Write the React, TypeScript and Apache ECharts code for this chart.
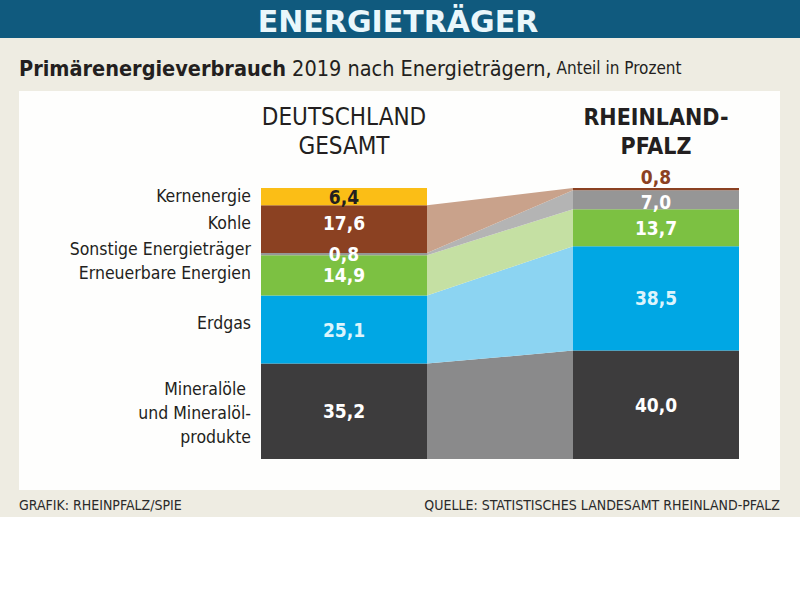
import React, { useEffect, useRef } from "react";
import * as echarts from "echarts";

// ---- data ----
const CATEGORIES = [
  "Mineralöle",
  "Erdgas",
  "Erneuerbare Energien",
  "Sonstige Energieträger",
  "Kohle",
  "Kernenergie",
];
const CATEGORY_LABELS = [
  "Mineralöle \nund Mineralöl-\nprodukte",
  "Erdgas",
  "Erneuerbare Energien",
  "Sonstige Energieträger",
  "Kohle",
  "Kernenergie",
];
const REGIONS = ["DEUTSCHLAND\nGESAMT", "RHEINLAND-\nPFALZ"];
const DEUTSCHLAND = [35.2, 25.1, 14.9, 0.8, 17.6, 6.4];
const RHEINLAND_PFALZ = [40.0, 38.5, 13.7, 7.0, 0.8, 0];

// ---- style ----
const NARROW =
  "'Liberation Sans Narrow', 'DejaVu Sans Condensed', 'Roboto Condensed', 'Open Sans', sans-serif";
const BAR_W = 166;
const BAR_COLORS = ["#3d3c3d", "#00a7e4", "#7cc142", "#969696", "#8b4122", "#fbbe16"];
const RIBBON_COLORS = ["#8a8a8b", "#8cd4f2", "#c5e0a3", "#b4b4b4", "#c9a28b", "#fde08a"];
const LABEL_NUDGE = [2, -7, -2, -5, -6, -1];
const TEXT = "#231f20";

const fmt = (v: number) => v.toFixed(1).replace(".", ",");

function cumulative(vals: number[]) {
  const out: number[][] = [];
  let acc = 0;
  vals.forEach((v) => {
    out.push([acc, acc + v]);
    acc += v;
  });
  return out;
}

export default function App() {
  const ref = useRef<HTMLDivElement>(null);

  useEffect(() => {
    document.body.style.margin = "0";
    if (!ref.current) return;
    const chart = echarts.init(ref.current, undefined, { renderer: "svg" });

    const cumL = cumulative(DEUTSCHLAND);
    const cumR = cumulative(RHEINLAND_PFALZ);

    const barSeries = CATEGORIES.map((name, i) => ({
      name,
      type: "bar",
      stack: "total",
      barWidth: BAR_W,
      z: 3,
      itemStyle: { color: BAR_COLORS[i] },
      label: {
        show: true,
        position: "inside",
        color: "#ffffff",
        fontFamily: NARROW,
        fontWeight: "bold",
        fontSize: 19,
        formatter: (p: any) => fmt(p.value),
      },
      data: [DEUTSCHLAND[i], RHEINLAND_PFALZ[i]].map((v, j) => {
        const item: any = { value: v };
        if (v === 0) item.label = { show: false };
        if (i === 5 && j === 0) item.label = { color: TEXT };
        if (i === 1) item.label = { color: "#dcf4fc" };
        if (i === 4 && j === 0) item.label = { offset: [0, -6] };
        if (i === 4 && j === 1)
          item.label = { position: "top", distance: 2, color: "#8b4122" };
        if (i === 3 && j === 1) item.label = { offset: [0, 2] };
        return item;
      }),
    }));

    const ribbonData = CATEGORIES.map((_, i) => [
      0,
      cumL[i][0],
      cumL[i][1],
      cumR[i][0],
      cumR[i][1],
      i,
    ]).filter((d) => DEUTSCHLAND[d[5]] > 0 && RHEINLAND_PFALZ[d[5]] > 0);

    const ribbonSeries = {
      type: "custom",
      name: "ribbons",
      z: 1,
      silent: true,
      encode: { x: 0, y: [1, 2, 3, 4] },
      data: ribbonData,
      renderItem: (params: any, api: any) => {
        const l0 = api.coord([0, api.value(1)]);
        const l1 = api.coord([0, api.value(2)]);
        const r0 = api.coord([1, api.value(3)]);
        const r1 = api.coord([1, api.value(4)]);
        const xL = l0[0] + BAR_W / 2;
        const xR = r0[0] - BAR_W / 2;
        const idx = api.value(5);
        return {
          type: "polygon",
          shape: {
            points: [
              [xL, l0[1]],
              [xR, r0[1]],
              [xR, r1[1]],
              [xL, l1[1]],
            ],
          },
          style: { fill: RIBBON_COLORS[idx] },
        };
      },
    };

    const labelSeries = {
      type: "custom",
      name: "categoryLabels",
      z: 4,
      silent: true,
      encode: { x: 0, y: 1 },
      data: CATEGORIES.map((_, i) => [0, (cumL[i][0] + cumL[i][1]) / 2, i]),
      renderItem: (params: any, api: any) => {
        const pt = api.coord([0, api.value(1)]);
        const idx = api.value(2);
        return {
          type: "text",
          x: pt[0] - BAR_W / 2 - 10,
          y: pt[1] + LABEL_NUDGE[idx],
          style: {
            text: CATEGORY_LABELS[idx],
            align: "right",
            verticalAlign: "middle",
            fontFamily: NARROW,
            fontSize: 17.5,
            lineHeight: 24,
            fill: TEXT,
          },
        };
      },
    };

    chart.setOption({
      animation: false,
      grid: { left: 344, right: 144, top: 188, bottom: 149, containLabel: false },
      xAxis: {
        type: "category",
        data: REGIONS,
        position: "top",
        boundaryGap: false,
        axisLine: { show: false },
        axisTick: { show: false },
        splitLine: { show: false },
        axisLabel: {
          margin: 28,
          interval: 0,
          formatter: (v: string, i: number) =>
            v
              .split("\n")
              .map((s) => `{${i === 0 ? "a" : "b"}|${s}}`)
              .join("\n"),
          rich: {
            a: {
              fontFamily: NARROW,
              fontSize: 24,
              lineHeight: 29,
              color: TEXT,
              align: "center",
            },
            b: {
              fontFamily: NARROW,
              fontSize: 23,
              fontWeight: "bold",
              lineHeight: 29,
              color: TEXT,
              align: "center",
            },
          },
        },
      },
      yAxis: {
        type: "value",
        min: 0,
        max: 100,
        show: false,
        splitLine: { show: false },
      },
      graphic: [
        { type: "rect", z: -10, shape: { x: 0, y: 0, width: 800, height: 38 }, style: { fill: "#105a7e" } },
        { type: "rect", z: -10, shape: { x: 0, y: 38, width: 800, height: 479 }, style: { fill: "#eeece2" } },
        { type: "rect", z: -9, shape: { x: 19, y: 91, width: 761, height: 399 }, style: { fill: "#fefefd" } },
        {
          type: "text",
          z: 10,
          x: 398,
          y: 21,
          style: {
            text: "ENERGIETRÄGER",
            align: "center",
            verticalAlign: "middle",
            fontFamily: "'DejaVu Sans', sans-serif",
            fontWeight: "bold",
            fontSize: 30,
            fill: "#eaf7fb",
          },
        },
        {
          type: "text",
          z: 10,
          x: 19,
          y: 68,
          style: {
            text: "{b|Primärenergieverbrauch}{r| 2019 nach Energieträgern,}{s| Anteil in Prozent}",
            verticalAlign: "middle",
            rich: {
              b: { fontFamily: NARROW, fontWeight: "bold", fontSize: 21.5, fill: TEXT },
              r: { fontFamily: NARROW, fontSize: 21.5, fill: TEXT },
              s: { fontFamily: NARROW, fontSize: 17, fill: TEXT },
            },
          },
        },
        {
          type: "text",
          z: 10,
          x: 19,
          y: 505,
          style: {
            text: "GRAFIK: RHEINPFALZ/SPIE",
            verticalAlign: "middle",
            fontFamily: NARROW,
            fontSize: 14,
            fill: "#2a2a2a",
          },
        },
        {
          type: "text",
          z: 10,
          x: 780,
          y: 505,
          style: {
            text: "QUELLE: STATISTISCHES LANDESAMT RHEINLAND-PFALZ",
            align: "right",
            verticalAlign: "middle",
            fontFamily: NARROW,
            fontSize: 14,
            fill: "#2a2a2a",
          },
        },
      ],
      series: [ribbonSeries, ...barSeries, labelSeries],
    });

    return () => chart.dispose();
  }, []);

  return <div ref={ref} style={{ width: 800, height: 608 }} />;
}
